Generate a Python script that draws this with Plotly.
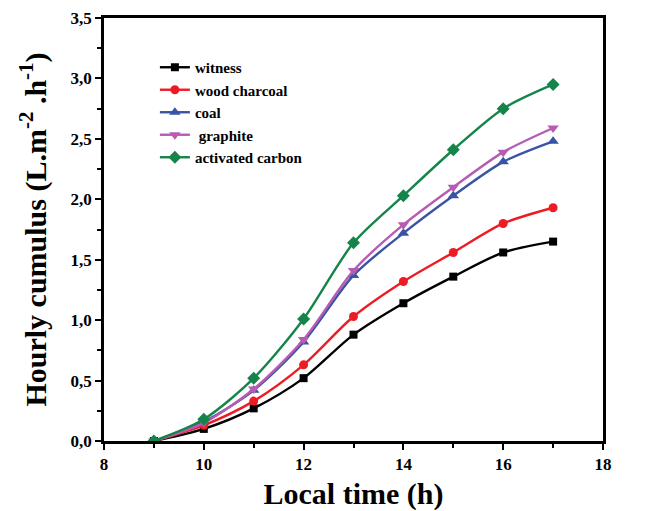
import plotly.graph_objects as go

hours = [9, 10, 11, 12, 13, 14, 15, 16, 17]
witness = [0.0, 0.10, 0.27, 0.52, 0.88, 1.14, 1.36, 1.56, 1.65]
wood_charcoal = [0.0, 0.13, 0.33, 0.63, 1.03, 1.32, 1.56, 1.80, 1.93]
coal = [0.0, 0.16, 0.42, 0.82, 1.37, 1.72, 2.03, 2.31, 2.48]
graphite = [0.0, 0.15, 0.43, 0.84, 1.41, 1.79, 2.10, 2.39, 2.59]
activated_carbon = [0.0, 0.18, 0.52, 1.01, 1.64, 2.03, 2.41, 2.75, 2.95]

series_names = ["witness", "wood charcoal", "coal", " graphite", "activated carbon"]
x_tick_vals = [8, 10, 12, 14, 16, 18]
y_tick_vals = [0, 0.5, 1.0, 1.5, 2.0, 2.5, 3.0, 3.5]
y_tick_text = ["0,0", "0,5", "1,0", "1,5", "2,0", "2,5", "3,0", "3,5"]

styles = [
    ("#000000", "square", 8),
    ("#ED1C24", "circle", 9),
    ("#3A53A4", "triangle-up", 10),
    ("#B65DB3", "triangle-down", 10),
    ("#15844A", "diamond", 10),
]
values = [witness, wood_charcoal, coal, graphite, activated_carbon]

fig = go.Figure()
for name, vals, (col, sym, sz) in zip(series_names, values, styles):
    fig.add_trace(go.Scatter(
        x=hours, y=vals, name=name, mode="lines+markers",
        line=dict(color=col, width=2.4, shape="spline", smoothing=0.8),
        marker=dict(color=col, symbol=sym, size=sz),
    ))

font = "Liberation Serif"
fig.update_layout(
    width=643, height=503,
    margin=dict(l=96, r=48, t=10, b=70, autoexpand=False),
    paper_bgcolor="white", plot_bgcolor="white",
    font=dict(family=font, color="black"),
    showlegend=True,
    legend=dict(x=0.102, y=0.922, xanchor="left", yanchor="top",
                bgcolor="rgba(0,0,0,0)", borderwidth=0,
                font=dict(family=font, size=15, color="black", weight="bold"),
                tracegroupgap=0, itemwidth=30),
    xaxis=dict(range=[8, 18], tickvals=x_tick_vals, automargin=False,
               ticks="outside", ticklen=6, tickwidth=2, tickcolor="black",
               minor=dict(dtick=1, ticks="outside", ticklen=4, tickwidth=2, tickcolor="black"),
               showline=True, linewidth=2.5, linecolor="black", mirror=True,
               showgrid=False, zeroline=False,
               tickfont=dict(family=font, size=17, weight="bold"),
               title=dict(text="Local time (h)", standoff=10,
                          font=dict(family=font, size=30, weight="bold"))),
    yaxis=dict(range=[0, 3.5], tickvals=y_tick_vals, ticktext=y_tick_text, automargin=False,
               ticks="outside", ticklen=6, tickwidth=2, tickcolor="black",
               minor=dict(dtick=0.25, ticks="outside", ticklen=4, tickwidth=2, tickcolor="black"),
               showline=True, linewidth=2.5, linecolor="black", mirror=True,
               showgrid=False, zeroline=False,
               tickfont=dict(family=font, size=17, weight="bold"),
               title=dict(text="Hourly cumulus (L.m<sup>-2</sup> .h<sup>-1</sup>)", standoff=16,
                          font=dict(family=font, size=30, weight="bold"))),
)

fig.write_html("out.html")
